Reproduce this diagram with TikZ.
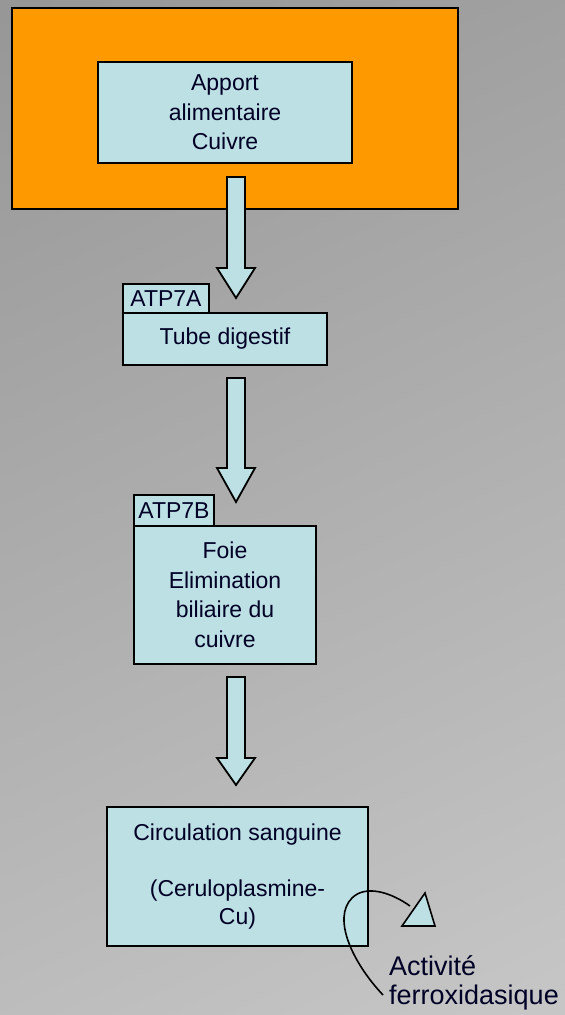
\documentclass[tikz,border=0pt]{standalone}
\usepackage{fontspec}
\setmainfont{Liberation Sans}
\usetikzlibrary{positioning}
\definecolor{bgtop}{HTML}{979797}
\definecolor{bgbot}{HTML}{C6C6C6}
\definecolor{orangebox}{HTML}{FF9900}
\definecolor{lightblue}{HTML}{BCE0E3}
\tikzset{
  box/.style={draw=black, line width=1.8pt, fill=lightblue, inner sep=0pt, align=center,
    font=\fontsize{23}{29.5}\selectfont, text=black!85!blue},
  blockarrow/.style={draw=black, line width=1.8pt, fill=lightblue, line join=miter},
  curvearrow/.style={draw=black, line width=1.6pt},
}
\newcommand{\blockarr}[4]{% x center, top y, head y, tip y
  \draw[blockarrow] (#1-9,#2) -- (#1+9,#2) -- (#1+9,#3) -- (#1+19,#3) -- (#1,#4) -- (#1-19,#3) -- (#1-9,#3) -- cycle;}
\begin{document}
\begin{tikzpicture}[x=1pt,y=-1pt]
\useasboundingbox (0,0) rectangle (565,1015);
\shade[top color=bgtop, bottom color=bgbot, shading angle=25] (-200,-100) rectangle (765,1115);
% orange frame
\node[draw=black, line width=1.8pt, fill=orangebox, minimum width=446pt, minimum height=201pt, inner sep=0pt] (frame) at (235,108.5) {};
\node[box, minimum width=254pt, minimum height=101pt] (apport) at (225,112.5) {Apport\\alimentaire\\Cuivre};
% arrow 1
\blockarr{236}{177}{268}{298}
% tube digestif
\node[box, minimum width=86pt, minimum height=29pt] (atp7a) at (166,298.5) {ATP7A};
\node[box, minimum width=204pt, minimum height=52pt] (tube) at (225,339) {Tube digestif};
% arrow 2
\blockarr{236}{378}{468}{502}
% foie
\node[box, minimum width=80pt, minimum height=31pt] (atp7b) at (174,510.5) {ATP7B};
\node[box, minimum width=182pt, minimum height=138pt] (foie) at (225,595) {Foie\\Elimination\\biliaire du\\cuivre};
% arrow 3
\blockarr{236}{677}{758}{785}
% circulation
\node[box, minimum width=261pt, minimum height=139pt, font=\fontsize{23}{28}\selectfont] (circ) at (237.5,876.5) {Circulation sanguine\\[28pt](Ceruloplasmine-\\Cu)};
% curved arrow
\coordinate (cstart) at (383,995);
\coordinate (cend) at (410,906);
\draw[curvearrow] (cstart) .. controls (352,962) and (332,918) .. (352,898) .. controls (366,884) and (392,893) .. (cend);
\draw[blockarrow, line width=1.6pt] (402,926) -- (425,893) -- (435,926) -- cycle;
% label
\node[anchor=base west, inner sep=0pt, align=left, font=\fontsize{27}{29}\selectfont, text=black!85!blue] (activ) at (389,1004) {Activité\\ferroxidasique};
\end{tikzpicture}
\end{document}
